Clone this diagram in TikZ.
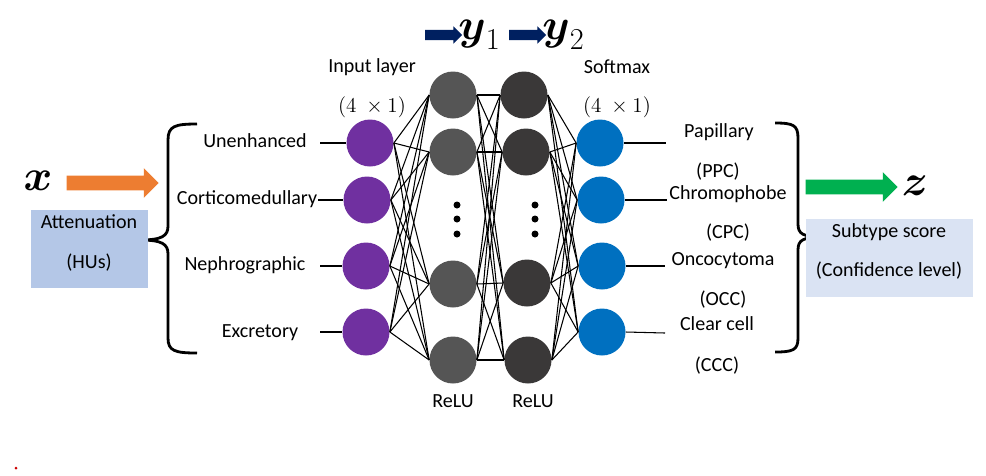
\documentclass[tikz,border=0pt]{standalone}
\usepackage{fontspec}
\setmainfont{Carlito}
\usepackage{amsmath}
\usetikzlibrary{shapes.arrows}

\definecolor{inpurple}{HTML}{7030A0}
\definecolor{hidgray}{HTML}{555555}
\definecolor{hiddark}{HTML}{3A3838}
\definecolor{outblue}{HTML}{0070C0}
\definecolor{xorange}{HTML}{ED7D31}
\definecolor{zgreen}{HTML}{00B050}
\definecolor{ynavy}{HTML}{002060}
\definecolor{attbox}{HTML}{B4C7E7}
\definecolor{subbox}{HTML}{DAE3F3}

\begin{document}
\begin{tikzpicture}[x=0.2mm,y=-0.2mm,
    neuron/.style={circle,minimum size=9.4mm,inner sep=0pt},
    lbl/.style={font=\fontsize{11.4}{13}\selectfont,inner sep=0pt},
    mathlbl/.style={font=\fontsize{23}{25}\selectfont,inner sep=0pt},
    link/.style={line width=0.6pt},
    curly/.style={line width=1.6pt},
    bigarrow/.style={single arrow,inner sep=1.4mm,single arrow head extend=1.5mm,minimum height=18.4mm},
    smallarrow/.style={single arrow,fill=ynavy,inner sep=0.95mm,single arrow head extend=0.7mm,minimum height=7.4mm}]
  \useasboundingbox (0,0) rectangle (986,475);

  % layers
  \node[neuron,fill=inpurple] (i1) at (370,143) {};
  \node[neuron,fill=inpurple] (i2) at (367,200) {};
  \node[neuron,fill=inpurple] (i3) at (366,266) {};
  \node[neuron,fill=inpurple] (i4) at (366,332) {};

  \node[neuron,fill=hidgray] (h1) at (453,95) {};
  \node[neuron,fill=hidgray] (h2) at (453,152) {};
  \node[neuron,fill=hidgray] (h3) at (453,284) {};
  \node[neuron,fill=hidgray] (h4) at (453,360) {};

  \node[neuron,fill=hiddark] (g1) at (524,95) {};
  \node[neuron,fill=hiddark] (g2) at (526,152) {};
  \node[neuron,fill=hiddark] (g3) at (527,283) {};
  \node[neuron,fill=hiddark] (g4) at (528,360) {};

  \node[neuron,fill=outblue] (o1) at (600,143) {};
  \node[neuron,fill=outblue] (o2) at (601,200) {};
  \node[neuron,fill=outblue] (o3) at (602,266) {};
  \node[neuron,fill=outblue] (o4) at (602,332) {};

  \foreach \a in {1,...,4}
    \foreach \b in {1,...,4} {
      \draw[link] (i\a.east) -- (h\b.west);
      \draw[link] (h\a.east) -- (g\b.west);
      \draw[link] (g\a.east) -- (o\b.west);
    }

  \foreach \y in {205,219,234} {
    \fill (457,\y) circle (3.5);
    \fill (535,\y) circle (3.5);
  }

  % inputs
  \node[lbl] (unen) at (255,141) {Unenhanced};
  \node[lbl] (cort) at (247,199) {Corticomedullary};
  \node[lbl] (neph) at (245,265) {Nephrographic};
  \node[lbl] (excr) at (260,333) {Excretory};
  \coordinate (s1) at (320,143);
  \coordinate (s2) at (318,200);
  \coordinate (s3) at (320,266);
  \coordinate (s4) at (320,332);
  \foreach \k in {1,...,4}
    \draw[link] (s\k) -- (i\k.west);

  % outputs
  \node[lbl] (pap) at (719,132) {Papillary};
  \node[lbl] (ppc) at (718,172) {(PPC)};
  \node[lbl] (chr) at (728,194) {Chromophobe};
  \node[lbl] (cpc) at (728,233) {(CPC)};
  \node[lbl] (onc) at (723,261) {Oncocytoma};
  \node[lbl] (occ) at (723,300) {(OCC)};
  \node[lbl] (clr) at (717,324) {Clear cell};
  \node[lbl] (ccc) at (717,366) {(CCC)};
  \coordinate (e1) at (666,143);
  \coordinate (e2) at (667,200);
  \coordinate (e3) at (665,266);
  \coordinate (e4) at (665,333);
  \foreach \k in {1,...,4}
    \draw[link] (o\k.east) -- (e\k);

  % headers
  \node[lbl] (inlayer) at (372,67) {Input layer};
  \node[lbl,font=\fontsize{13}{15}\selectfont] (inshape) at (372,107) {$(4\ \times 1)$};
  \node[lbl] (softmax) at (617,67) {Softmax};
  \node[lbl,font=\fontsize{13}{15}\selectfont] (outshape) at (617,107) {$(4\ \times 1)$};
  \node[lbl] (relu1) at (453,401) {ReLU};
  \node[lbl] (relu2) at (533,401) {ReLU};

  \node[smallarrow] (ya1) at (441,35) {};
  \node[mathlbl,anchor=west] (y1) at (458,35) {$\boldsymbol{y}_1$};
  \node[smallarrow] (ya2) at (525,35) {};
  \node[mathlbl,anchor=west] (y2) at (542,35) {$\boldsymbol{y}_2$};

  % braces
  \draw[curly] (197,124) .. controls (175,124) and (168,126) .. (168,140) -- (168,226)
    .. controls (168,236) and (162,240) .. (140,240)
    .. controls (162,240) and (168,244) .. (168,254) -- (168,338)
    .. controls (168,351) and (175,353) .. (197,353);
  \draw[curly] (775,123) .. controls (793,123) and (798,125) .. (798,138) -- (798,224)
    .. controls (798,234) and (803,237) .. (823,237)
    .. controls (803,237) and (798,240) .. (798,250) -- (798,338)
    .. controls (798,350) and (793,352) .. (775,352);

  % left side
  \node[mathlbl] (x) at (38,181) {$\boldsymbol{x}$};
  \node[bigarrow,fill=xorange] (xa) at (109,183) {};
  \node[fill=attbox,minimum width=23.4mm,minimum height=15.6mm,inner sep=0pt] (att) at (89.5,249) {};
  \node[lbl] (attl) at (89,222) {Attenuation};
  \node[lbl] (hus) at (89,263) {(HUs)};

  % right side
  \node[bigarrow,fill=zgreen] (za) at (848,187) {};
  \node[mathlbl] (z) at (915,186) {$\boldsymbol{z}$};
  \node[fill=subbox,minimum width=33.4mm,minimum height=15.6mm,inner sep=0pt] (sub) at (889.5,258) {};
  \node[lbl] (subt) at (889,232) {Subtype score};
  \node[lbl] (conf) at (889,271) {(Confidence level)};

  \fill[red!80!black] (16,468) circle (1.5);
\end{tikzpicture}
\end{document}
